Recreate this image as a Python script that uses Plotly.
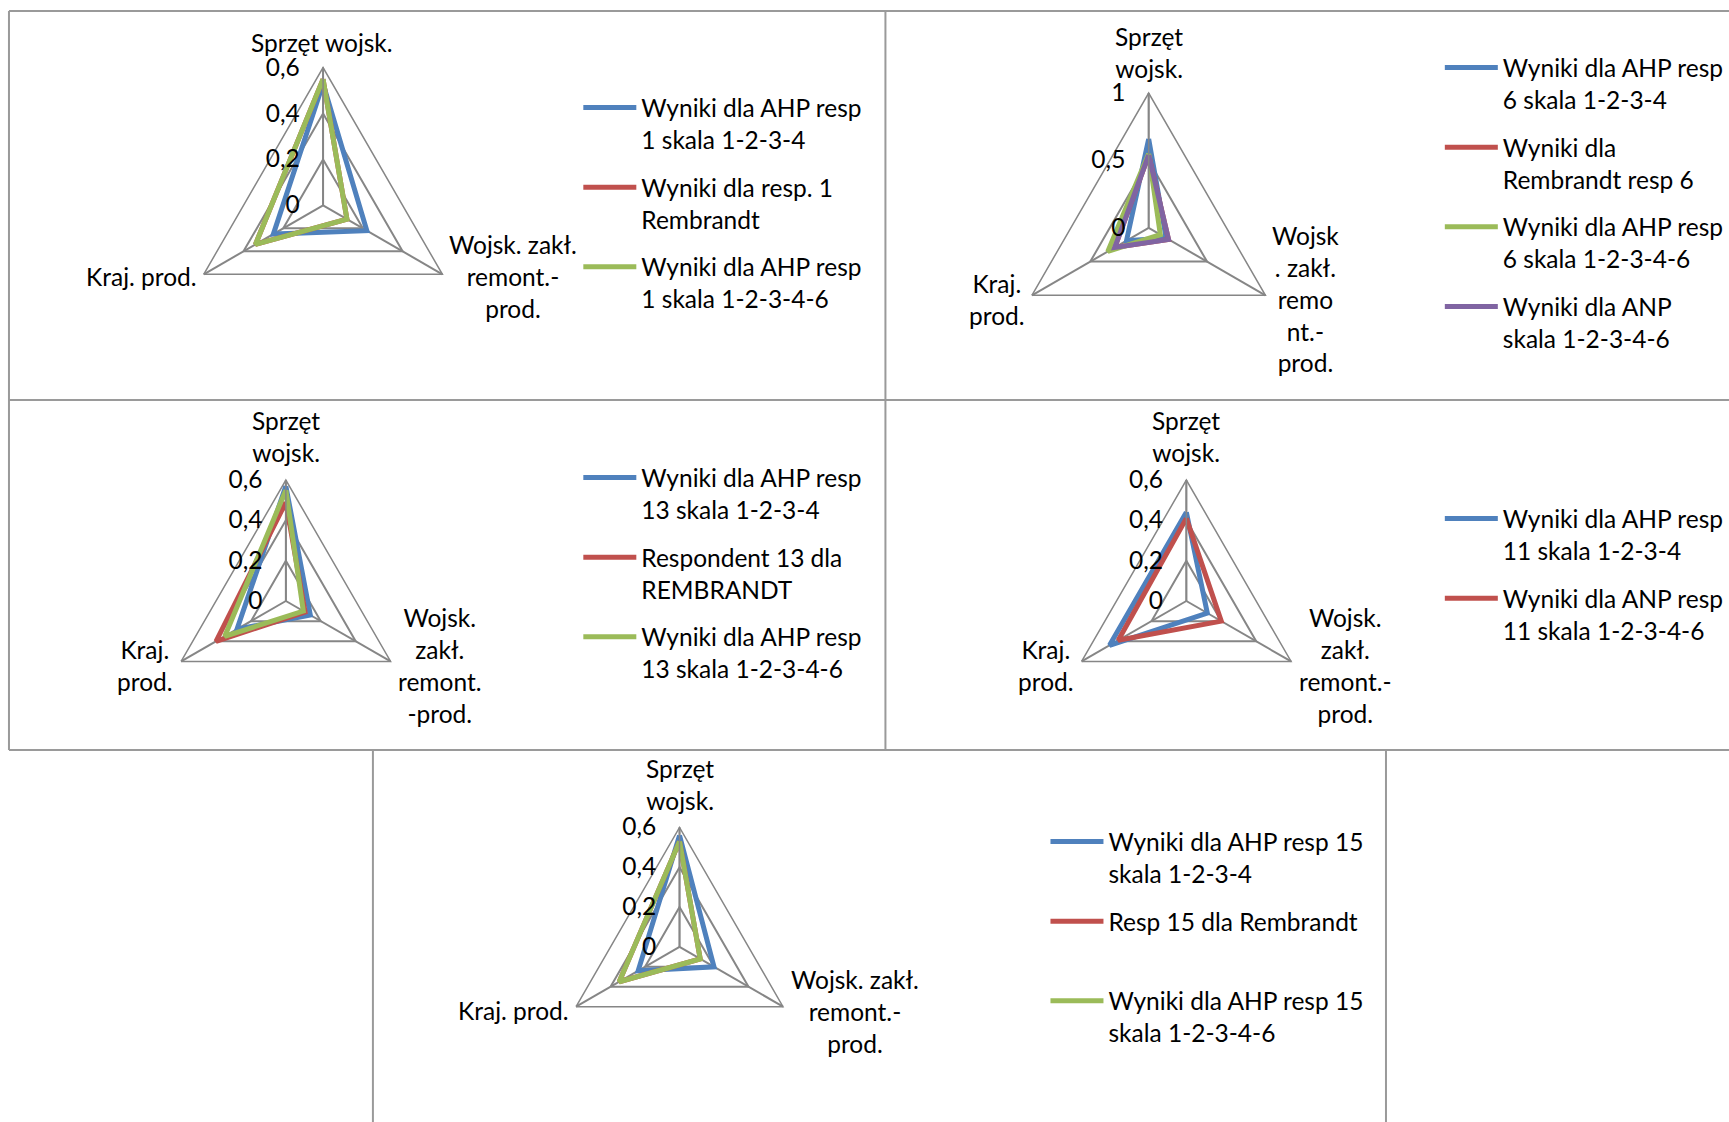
import plotly.graph_objects as go

W, H = 1729, 1122
FONT = "Lato"
FS = 24.5

# Criteria (angular categories)
criteria = ["Sprzęt wojsk.", "Wojsk. zakł. remont.-prod.", "Kraj. prod."]

# Series colours
c_blue = "#4F81BD"
c_red = "#C0504D"
c_green = "#9BBB59"
c_purple = "#8064A2"

# Respondent 1
r1_ahp4 = [0.53, 0.22, 0.25]
r1_rembrandt = [0.55, 0.12, 0.34]
r1_ahp6 = [0.55, 0.12, 0.34]
names_r1 = ["Wyniki dla AHP resp<br>1 skala 1-2-3-4",
            "Wyniki dla resp. 1<br>Rembrandt",
            "Wyniki dla AHP resp<br>1 skala 1-2-3-4-6"]

# Respondent 6
r6_ahp4 = [0.66, 0.15, 0.19]
r6_rembrandt = [0.54, 0.17, 0.29]
r6_ahp6 = [0.55, 0.10, 0.35]
r6_anp6 = [0.54, 0.17, 0.29]
names_r6 = ["Wyniki dla AHP resp<br>6 skala 1-2-3-4",
            "Wyniki dla<br>Rembrandt resp 6",
            "Wyniki dla AHP resp<br>6 skala 1-2-3-4-6",
            "Wyniki dla ANP<br>skala 1-2-3-4-6"]

# Respondent 13
r13_ahp4 = [0.57, 0.14, 0.28]
r13_rembrandt = [0.49, 0.11, 0.40]
r13_ahp6 = [0.55, 0.10, 0.35]
names_r13 = ["Wyniki dla AHP resp<br>13 skala 1-2-3-4",
             "Respondent 13 dla<br>REMBRANDT",
             "Wyniki dla AHP resp<br>13 skala 1-2-3-4-6"]

# Respondent 11
r11_ahp4 = [0.44, 0.12, 0.44]
r11_anp6 = [0.41, 0.20, 0.39]
names_r11 = ["Wyniki dla AHP resp<br>11 skala 1-2-3-4",
             "Wyniki dla ANP resp<br>11 skala 1-2-3-4-6"]

# Respondent 15
r15_ahp4 = [0.56, 0.20, 0.24]
r15_rembrandt = [0.53, 0.12, 0.35]
r15_ahp6 = [0.53, 0.12, 0.35]
names_r15 = ["Wyniki dla AHP resp 15<br>skala 1-2-3-4",
             "Resp 15 dla Rembrandt<br> ",
             "Wyniki dla AHP resp 15<br>skala 1-2-3-4-6"]

# Axis label wrapping per panel
labels_p1 = ["Sprzęt wojsk.", "Wojsk. zakł.<br>remont.-<br>prod.", "Kraj. prod."]
labels_p2 = ["Sprzęt<br>wojsk.", "Wojsk<br>. zakł.<br>remo<br>nt.-<br>prod.", "Kraj.<br>prod."]
labels_p3 = ["Sprzęt<br>wojsk.", "Wojsk.<br>zakł.<br>remont.<br>-prod.", "Kraj.<br>prod."]
labels_p4 = ["Sprzęt<br>wojsk.", "Wojsk.<br>zakł.<br>remont.-<br>prod.", "Kraj.<br>prod."]
labels_p5 = ["Sprzęt<br>wojsk.", "Wojsk. zakł.<br>remont.-<br>prod.", "Kraj. prod."]

ITEM_W = 53  # legend symbol width

panels = [
    dict(series=[r1_ahp4, r1_rembrandt, r1_ahp6], names=names_r1,
         colors=[c_blue, c_red, c_green], rmax=0.6, dtick=0.2,
         center=(324, 205.4), radius=138.2, labels=labels_p1,
         label_pos=[(323, 42), (514, 277), (142, 277)],
         legend_xy=(643, 85)),
    dict(series=[r6_ahp4, r6_rembrandt, r6_ahp6, r6_anp6], names=names_r6,
         colors=[c_blue, c_red, c_green, c_purple], rmax=1.0, dtick=0.5,
         center=(1152, 227.9), radius=135.2, labels=labels_p2,
         label_pos=[(1152, 52), (1309, 299), (1000, 299)],
         legend_xy=(1507, 45)),
    dict(series=[r13_ahp4, r13_rembrandt, r13_ahp6], names=names_r13,
         colors=[c_blue, c_red, c_green], rmax=0.6, dtick=0.2,
         center=(286.7, 601), radius=121.3, labels=labels_p3,
         label_pos=[(286.7, 437), (441, 665), (145.5, 665)],
         legend_xy=(643, 455)),
    dict(series=[r11_ahp4, r11_anp6], names=names_r11,
         colors=[c_blue, c_red], rmax=0.6, dtick=0.2,
         center=(1189.8, 601), radius=121.3, labels=labels_p4,
         label_pos=[(1189.8, 437), (1349.7, 665), (1048.7, 665)],
         legend_xy=(1507, 496)),
    dict(series=[r15_ahp4, r15_rembrandt, r15_ahp6], names=names_r15,
         colors=[c_blue, c_red, c_green], rmax=0.6, dtick=0.2,
         center=(681.5, 946.9), radius=119.8, labels=labels_p5,
         label_pos=[(681.5, 785), (857, 1011), (515, 1010)],
         legend_xy=(1111.5, 819)),
]

GRID = "#868686"
fig = go.Figure()
annotations = []
layout_extra = {}

for i, p in enumerate(panels, start=1):
    pname = "polar" if i == 1 else f"polar{i}"
    lname = "legend" if i == 1 else f"legend{i}"
    for vals, name, col in zip(p["series"], p["names"], p["colors"]):
        fig.add_trace(go.Scatterpolar(
            r=vals + vals[:1], theta=criteria + criteria[:1],
            mode="lines", name=name, subplot=pname, legend=lname,
            legendgroup=f"{pname}-{name}",
            line=dict(color=col, width=5),
            hoverinfo="skip",
        ))
    cx, cy = p["center"]
    R = p["radius"]
    layout_extra[pname] = dict(
        domain=dict(x=[(cx - R) / W, (cx + R) / W],
                    y=[1 - (cy + R) / H, 1 - (cy - R) / H]),
        bgcolor="rgba(0,0,0,0)",
        gridshape="linear",
        radialaxis=dict(
            range=[0, p["rmax"]], dtick=p["dtick"], tick0=0,
            angle=90, tickangle=90, side="counterclockwise",
            showline=True, linecolor=GRID, linewidth=1.5,
            gridcolor=GRID, gridwidth=1.5,
            ticks="outside", ticklen=14, tickcolor="rgba(0,0,0,0)",
            tickfont=dict(family=FONT, size=FS, color="black"),
        ),
        angularaxis=dict(
            categoryarray=criteria, categoryorder="array",
            direction="clockwise", rotation=90,
            showline=True, linecolor=GRID, linewidth=1.5,
            gridcolor=GRID, gridwidth=1.5,
            showticklabels=False, ticks="",
        ),
    )
    # legend x is given as the left edge of the entry text
    lx, ly = p["legend_xy"]
    layout_extra[lname] = dict(
        x=(lx - 10 - ITEM_W) / W, y=1 - ly / H, xanchor="left", yanchor="top",
        xref="paper", yref="paper",
        bgcolor="rgba(0,0,0,0)", borderwidth=0,
        font=dict(family=FONT, size=FS, color="black"),
        valign="top", tracegroupgap=13, itemwidth=ITEM_W,
    )
    for txt, (tx, ty) in zip(p["labels"], p["label_pos"]):
        annotations.append(dict(
            text=txt, x=tx / W, y=1 - ty / H, xref="paper", yref="paper",
            xanchor="center", yanchor="middle", align="center",
            showarrow=False, font=dict(family=FONT, size=FS, color="black"),
        ))

# Panel frames
BORDER = "#9a9a9a"
frame_lines = [
    (9, 11, W + 5, 11), (9, 400, W + 5, 400), (9, 750, W + 5, 750),
    (9, 11, 9, 750), (888, 11, 888, 750),
    (374, 750, 374, H + 5), (1390, 750, 1390, H + 5),
]
shapes = [dict(type="line", xref="paper", yref="paper",
               x0=x0 / W, y0=1 - y0 / H, x1=x1 / W, y1=1 - y1 / H,
               line=dict(color=BORDER, width=2))
          for x0, y0, x1, y1 in frame_lines]

fig.update_layout(
    width=W, height=H, margin=dict(l=0, r=0, t=0, b=0),
    paper_bgcolor="white", plot_bgcolor="white",
    separators=", ", showlegend=True,
    font=dict(family=FONT, size=FS, color="black"),
    annotations=annotations, shapes=shapes,
    **layout_extra,
)

fig.write_html("out.html", config={"responsive": False})
